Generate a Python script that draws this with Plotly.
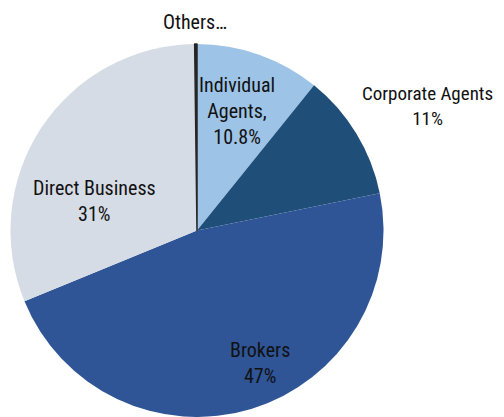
import plotly.graph_objects as go

labels = ["Individual Agents", "Corporate Agents", "Brokers", "Direct Business", "Others…"]
values = [10.8, 11.0, 47.0, 31.0, 0.2]
label_texts = ["Individual<br>Agents,<br>10.8%", "Corporate Agents<br>11%", "Brokers<br>47%",
               "Direct Business<br>31%", "Others…"]
colors = ["#9DC3E6", "#1F4E79", "#2F5597", "#D6DCE5", "#262626"]
line_widths = [0, 0, 0, 0, 1.5]

# page body has an 8px margin
OFF = 8
W, H = 504 - OFF, 417 - OFF
cx, cy, r = 197 - OFF, 232 - OFF, 188
top = cy - r
rr = min(r, (H - top) / 2)

fig = go.Figure(go.Pie(
    labels=labels, values=values, sort=False, direction="clockwise", rotation=0,
    marker=dict(colors=colors, line=dict(width=line_widths, color=colors)),
    textinfo="none", hoverinfo="label+percent", showlegend=False,
    domain=dict(x=[(cx - rr) / W, (cx + rr) / W], y=[0, 1 - top / H]),
))

label_pos = [(237, 111), (427, 106), (260, 363), (94, 201), (195, 22)]
label_size = [20, 19, 20, 20, 20]
for t, (px, py), fs in zip(label_texts, label_pos, label_size):
    fig.add_annotation(x=(px - OFF) / W, y=1 - (py - OFF) / H, xref="paper", yref="paper", text=t,
                       showarrow=False, xanchor="center", yanchor="middle", align="center",
                       font=dict(family="Roboto Condensed, Liberation Sans Narrow, sans-serif",
                                 size=fs, color="#111111"))

fig.update_layout(width=W, height=H, margin=dict(l=0, r=0, t=0, b=0),
                  paper_bgcolor="white", plot_bgcolor="white")
fig.write_html("out.html")
